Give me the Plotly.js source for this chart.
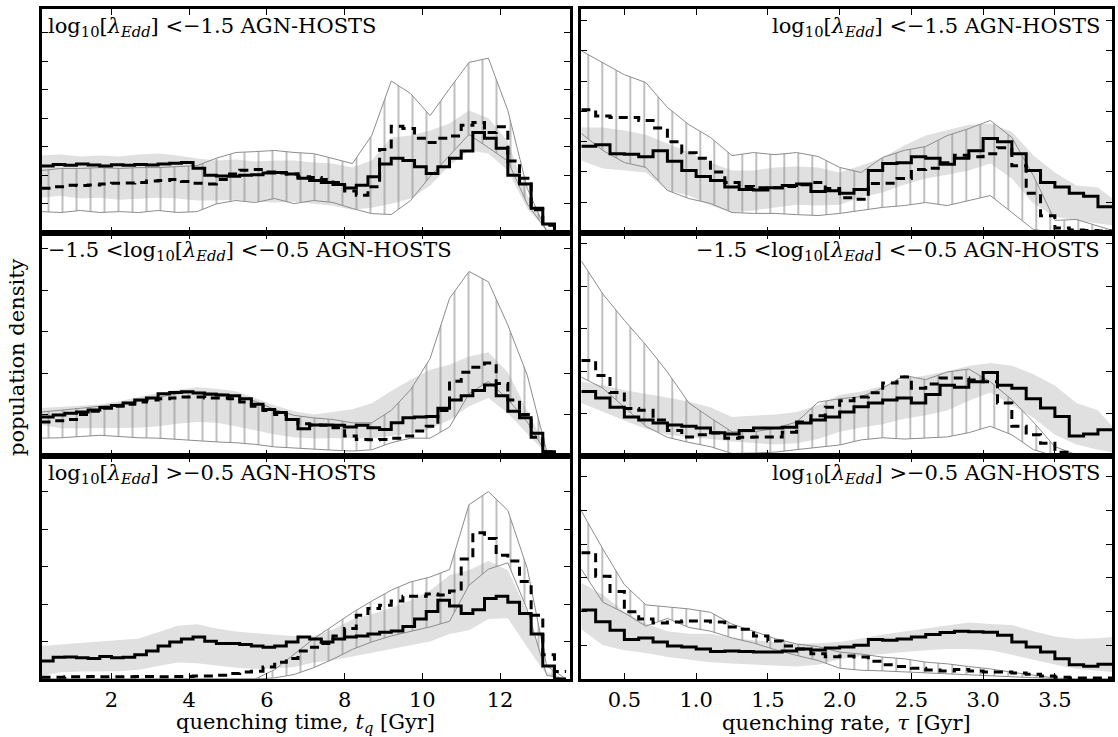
<!DOCTYPE html>
<html><head><meta charset="utf-8">
<script src="https://cdn.plot.ly/plotly-3.0.1.min.js"></script>
<style>html,body{margin:0;padding:0;background:#fff}#chart{width:1118px;height:737px}</style>
</head><body><div id="chart"></div>
<script>
// ---------- x grids ----------
const tqEdges = [0.2,0.5,0.8,1.1,1.4,1.7,2.0,2.3,2.6,2.9,3.2,3.5,3.8,4.1,4.4,4.7,5.0,5.3,5.6,5.9,6.2,6.5,6.8,7.1,7.4,7.7,8.0,8.3,8.6,8.9,9.2,9.5,9.8,10.1,10.4,10.7,11.0,11.3,11.6,11.9,12.2,12.5,12.8,13.1,13.4,13.7];
const tauEdges = [0.2,0.3,0.4,0.5,0.6,0.7,0.8,0.9,1.0,1.1,1.2,1.3,1.4,1.5,1.6,1.7,1.8,1.9,2.0,2.1,2.2,2.3,2.4,2.5,2.6,2.7,2.8,2.9,3.0,3.1,3.2,3.3,3.4,3.5,3.6,3.7,3.8,3.9];
const tqBand = [0.2,0.7,1.2,1.7,2.2,2.7,3.2,3.7,4.2,4.7,5.2,5.7,6.2,6.7,7.2,7.7,8.2,8.7,9.2,9.7,10.2,10.7,11.2,11.7,12.2,12.7,13.2,13.7];
const tauBand = [0.2,0.35,0.5,0.65,0.8,0.95,1.1,1.25,1.4,1.55,1.7,1.85,2.0,2.15,2.3,2.45,2.6,2.75,2.9,3.05,3.2,3.35,3.5,3.65,3.8,3.9];
const tqTicks = [2,4,6,8,10,12];
const tauTicks = [0.5,1.0,1.5,2.0,2.5,3.0,3.5];

// ---------- row 1 : log10[lambda_Edd] < -1.5 ----------
const tqLowSolid = [2.33,2.38,2.35,2.40,2.36,2.33,2.37,2.35,2.38,2.36,2.40,2.42,2.45,2.25,2.00,1.98,1.97,2.00,2.02,2.08,2.10,2.05,1.90,1.82,1.75,1.68,1.56,1.65,1.95,2.40,2.60,2.52,2.30,2.06,2.30,2.60,2.85,3.50,3.30,2.95,2.00,1.70,0.85,0.30,0.00];
const tqLowDashed = [1.55,1.60,1.65,1.64,1.66,1.70,1.72,1.73,1.75,1.80,1.82,1.85,1.78,1.72,1.70,1.85,2.05,2.18,2.20,2.12,2.08,2.05,1.95,1.92,1.85,1.75,1.45,1.30,1.60,2.90,3.72,3.64,3.30,3.15,3.30,3.38,3.75,3.85,3.50,3.70,2.50,1.90,0.80,0.25,0.00];
const tqLowHatchUp = [2.17,2.24,2.24,2.27,2.24,2.27,2.27,2.31,2.34,2.60,2.80,2.83,2.87,2.80,2.76,2.59,2.41,3.40,5.30,4.86,4.09,5.03,5.95,6.10,4.27,1.54,0.03,0.00];
const tqLowHatchLo = [0.73,0.70,0.77,0.70,0.73,0.70,0.77,0.70,0.73,1.00,1.12,1.05,1.19,1.01,1.12,1.05,0.84,0.66,0.63,1.12,1.96,2.69,3.43,2.97,2.50,1.00,0.07,0.00];
const tqLowGreyUp = [2.69,2.73,2.66,2.69,2.66,2.73,2.76,2.69,2.59,2.52,2.55,2.48,2.52,2.52,2.45,2.41,2.27,2.52,3.32,3.39,3.57,3.81,4.27,4.00,3.20,1.30,0.14,0.00];
const tqLowGreyLo = [1.22,1.29,1.19,1.22,1.15,1.19,1.22,1.19,1.12,1.12,1.15,1.08,1.05,1.08,1.01,0.94,0.80,0.87,1.01,1.19,1.64,2.34,2.87,2.76,2.17,0.84,0.07,0.00];

const tauLowSolid = [2.85,2.90,2.60,2.58,2.50,2.70,2.35,2.05,1.85,1.72,1.50,1.42,1.40,1.48,1.55,1.60,1.35,1.38,1.30,1.42,2.05,2.28,2.30,2.50,2.45,2.25,2.45,2.70,3.10,3.00,2.60,2.05,1.65,1.50,1.30,1.20,0.85];
const tauLowDashed = [4.05,3.85,3.80,3.80,3.70,3.45,3.00,2.63,2.45,2.00,1.65,1.52,1.48,1.48,1.52,1.58,1.65,1.45,1.15,1.10,1.62,1.63,1.78,2.08,2.12,2.30,2.55,2.50,2.60,2.80,2.20,1.30,0.55,0.15,0.08,0.07,0.05];
const tauLowHatchUp = [6.00,5.61,5.21,4.95,4.13,3.56,3.14,2.54,2.64,2.57,2.64,2.51,2.15,1.98,2.48,2.71,2.84,3.20,3.43,3.70,3.14,1.88,0.40,0.43,0.20,0.07];
const tauLowHatchLo = [3.27,2.71,2.31,2.15,1.39,1.12,0.96,0.66,0.63,0.63,0.59,0.56,0.63,0.73,0.83,0.89,0.99,0.89,1.06,1.22,0.66,0.10,0.00,0.00,0.00,0.00];
const tauLowGreyUp = [3.47,3.47,3.37,3.23,2.94,2.64,2.31,2.05,2.05,2.15,2.18,2.15,1.98,2.21,2.48,2.87,3.20,3.37,3.56,3.60,3.33,2.54,1.98,1.55,1.49,1.12];
const tauLowGreyLo = [2.38,2.11,2.05,1.98,1.39,1.22,0.89,0.66,0.73,0.83,0.92,0.89,0.92,1.16,1.32,1.58,1.78,1.91,2.05,2.28,1.78,0.96,0.53,0.40,0.30,0.23];

// ---------- row 2 : -1.5 < log10[lambda_Edd] < -0.5 ----------
const tqMidSolid = [0.94,0.99,1.03,1.06,1.11,1.17,1.22,1.28,1.35,1.40,1.50,1.53,1.55,1.52,1.49,1.47,1.45,1.38,1.25,1.12,1.05,0.88,0.66,0.75,0.75,0.74,0.70,0.74,0.68,0.64,0.80,0.92,0.94,0.95,1.15,1.35,1.45,1.58,1.71,1.45,1.08,0.92,0.55,0.10,0.00];
const tqMidDashed = [0.82,0.85,0.88,1.00,1.08,1.15,1.20,1.25,1.30,1.35,1.38,1.40,1.42,1.42,1.40,1.40,1.38,1.30,1.20,1.10,1.00,0.88,0.78,0.75,0.74,0.68,0.48,0.40,0.39,0.40,0.43,0.48,0.60,0.72,1.10,1.80,2.02,2.14,2.24,1.75,1.35,1.00,0.45,0.10,0.00];
const tqMidHatchUp = [1.06,1.10,1.15,1.20,1.25,1.32,1.42,1.50,1.54,1.52,1.45,1.32,1.12,0.98,0.92,0.88,0.80,0.80,1.10,1.60,2.35,3.80,4.45,4.20,3.16,1.95,0.12,0.00];
const tqMidHatchLo = [0.43,0.44,0.47,0.50,0.47,0.44,0.43,0.40,0.36,0.34,0.32,0.28,0.22,0.19,0.16,0.14,0.12,0.15,0.32,0.43,0.43,0.70,1.50,1.80,1.37,0.82,0.05,0.00];
const tqMidGreyUp = [1.16,1.18,1.21,1.24,1.32,1.42,1.52,1.60,1.66,1.62,1.56,1.40,1.22,1.08,1.00,1.06,1.13,1.27,1.57,1.84,2.08,2.20,2.40,2.50,2.02,1.10,0.15,0.00];
const tqMidGreyLo = [0.75,0.67,0.67,0.67,0.67,0.68,0.72,0.78,0.82,0.80,0.72,0.62,0.52,0.45,0.42,0.43,0.43,0.43,0.48,0.55,0.65,0.87,1.20,1.40,1.03,0.55,0.05,0.00];

const tauMidSolid = [1.52,1.37,1.15,0.92,0.85,0.78,0.73,0.70,0.66,0.55,0.52,0.60,0.66,0.66,0.68,0.78,0.85,0.92,1.04,1.16,1.25,1.32,1.37,1.25,1.45,1.67,1.62,1.75,1.97,1.67,1.60,1.35,1.13,0.93,0.47,0.52,0.62];
const tauMidDashed = [2.25,1.90,1.50,1.12,1.08,0.85,0.60,0.45,0.50,0.54,0.42,0.44,0.45,0.45,0.56,0.80,0.95,1.15,1.30,1.39,1.49,1.72,1.86,1.60,1.70,1.84,1.84,1.79,1.75,1.25,0.70,0.50,0.30,0.09,0.02,0.02,0.02];
const tauMidHatchUp = [4.60,3.82,3.20,2.62,1.98,1.25,0.90,0.57,0.57,0.65,0.80,1.27,1.35,1.40,1.60,1.90,1.80,1.98,2.05,1.75,1.33,0.80,0.22,0.03,0.00,0.00];
const tauMidHatchLo = [1.86,1.60,1.15,0.70,0.44,0.32,0.22,0.06,0.07,0.09,0.15,0.21,0.26,0.38,0.43,0.40,0.43,0.45,0.55,0.70,0.50,0.15,0.00,0.00,0.00,0.00];
const tauMidGreyUp = [1.75,1.67,1.55,1.47,1.38,1.28,1.15,0.92,0.95,0.98,1.04,1.20,1.44,1.52,1.65,1.82,1.90,2.00,2.12,2.19,2.13,1.93,1.66,1.25,1.08,0.70];
const tauMidGreyLo = [1.25,1.04,0.84,0.64,0.50,0.44,0.40,0.34,0.30,0.27,0.30,0.40,0.57,0.67,0.75,0.88,0.96,1.07,1.30,1.50,1.20,0.90,0.50,0.27,0.15,0.09];

// ---------- row 3 : log10[lambda_Edd] > -0.5 ----------
const tqHighSolid = [0.48,0.58,0.59,0.57,0.55,0.60,0.57,0.58,0.65,0.75,0.88,0.99,1.07,1.12,1.01,0.95,0.95,0.92,0.88,0.85,0.88,0.99,1.12,1.07,0.99,1.07,1.12,1.15,1.20,1.25,1.28,1.40,1.60,1.80,2.10,1.95,1.75,1.85,2.15,2.21,2.05,1.75,1.20,0.35,0.00];
const tqHighDashed = [0.05,0.05,0.06,0.06,0.07,0.06,0.06,0.06,0.07,0.07,0.06,0.07,0.07,0.08,0.08,0.10,0.15,0.19,0.21,0.32,0.45,0.55,0.75,0.85,0.95,1.15,1.35,1.70,1.88,1.97,2.08,2.21,2.21,2.27,2.24,2.35,3.20,3.90,3.75,3.30,3.15,2.60,1.70,0.65,0.20];
const tqHighHatchUp = [0,0,0,0,0,0,0,0,0,0,0,0,0.25,0.65,1.07,1.42,1.77,2.08,2.37,2.59,2.72,2.92,4.65,5.00,4.50,2.95,0.35,0.00];
const tqHighHatchLo = [0,0,0,0,0,0,0,0,0,0,0,0,0.03,0.12,0.30,0.53,0.79,0.99,1.15,1.27,1.39,1.54,2.50,2.93,3.10,1.85,0.10,0.00];
const tqHighGreyUp = [0.88,0.92,0.97,1.01,1.04,1.08,1.25,1.42,1.46,1.35,1.27,1.22,1.18,1.15,1.15,1.32,1.59,1.73,1.90,2.10,2.36,2.77,2.90,3.15,2.90,1.80,0.19,0.00];
const tqHighGreyLo = [0.08,0.18,0.20,0.21,0.21,0.25,0.34,0.44,0.42,0.35,0.30,0.27,0.28,0.32,0.44,0.50,0.59,0.70,0.80,0.90,1.00,1.20,1.30,1.60,1.62,0.85,0.10,0.00];

const tauHighSolid = [2.05,1.70,1.45,1.17,1.22,1.10,0.98,0.95,0.89,0.82,0.83,0.82,0.80,0.80,0.83,0.89,0.86,0.92,0.95,1.00,1.17,1.15,1.19,1.25,1.32,1.38,1.42,1.40,1.39,1.30,1.10,0.95,0.80,0.60,0.42,0.38,0.44];
const tauHighDashed = [3.75,3.05,2.60,2.00,1.78,1.66,1.69,1.72,1.72,1.69,1.54,1.48,1.28,1.13,0.98,0.89,0.75,0.66,0.68,0.65,0.53,0.42,0.37,0.32,0.27,0.24,0.28,0.24,0.21,0.21,0.18,0.14,0.09,0.05,0.03,0.03,0.03];
const tauHighHatchUp = [4.99,3.86,2.80,2.20,2.14,2.08,1.98,1.63,1.42,1.20,1.04,0.96,0.80,0.74,0.65,0.60,0.50,0.45,0.37,0.30,0.20,0.12,0.03,0.00,0.00,0.00];
const tauHighHatchLo = [3.26,2.28,1.96,1.57,1.80,1.53,1.42,1.22,1.07,0.87,0.70,0.55,0.32,0.26,0.24,0.21,0.18,0.15,0.12,0.10,0.06,0.03,0.01,0.00,0.00,0.00];
const tauHighGreyUp = [2.85,2.50,2.00,1.65,1.42,1.34,1.34,1.22,1.15,1.10,1.05,1.06,1.10,1.20,1.32,1.41,1.50,1.60,1.68,1.63,1.60,1.42,1.26,1.19,1.21,1.25];
const tauHighGreyLo = [1.48,1.00,0.85,0.77,0.65,0.58,0.50,0.46,0.43,0.39,0.37,0.42,0.59,0.68,0.75,0.80,0.85,0.89,0.89,0.85,0.72,0.57,0.43,0.30,0.24,0.21];

// ---------- labels ----------
const lam = 'log<sub>10</sub>[<i>λ</i><sub><i>Edd</i></sub>]';
const panelLabels = [
  lam + ' &lt;−1.5 AGN-HOSTS',
  '−1.5 &lt;' + lam + ' &lt;−0.5 AGN-HOSTS',
  lam + ' &gt;−0.5 AGN-HOSTS'
];
const xTitleLeft = 'quenching time, <i>t</i><sub><i>q</i></sub> [Gyr]';
const xTitleRight = 'quenching rate, <i>τ</i> [Gyr]';
const yTitle = 'population density';

// ---------- build ----------
const W = 1118, H = 737;
const colDom = [[41.5/W, 570/W], [581.3/W, 1112.3/W]];
const rowPx = [[8.7, 232.5], [232.5, 456], [456, 679]];
const rowDom = rowPx.map(r => [1 - r[1]/H, 1 - r[0]/H]);
const yMax = [[7.83, 7.39], [5.39, 5.27], [5.95, 6.62]];

const panels = [
  {r:0,c:0, s:tqLowSolid, d:tqLowDashed, hu:tqLowHatchUp, hl:tqLowHatchLo, gu:tqLowGreyUp, gl:tqLowGreyLo},
  {r:0,c:1, s:tauLowSolid, d:tauLowDashed, hu:tauLowHatchUp, hl:tauLowHatchLo, gu:tauLowGreyUp, gl:tauLowGreyLo},
  {r:1,c:0, s:tqMidSolid, d:tqMidDashed, hu:tqMidHatchUp, hl:tqMidHatchLo, gu:tqMidGreyUp, gl:tqMidGreyLo},
  {r:1,c:1, s:tauMidSolid, d:tauMidDashed, hu:tauMidHatchUp, hl:tauMidHatchLo, gu:tauMidGreyUp, gl:tauMidGreyLo},
  {r:2,c:0, s:tqHighSolid, d:tqHighDashed, hu:tqHighHatchUp, hl:tqHighHatchLo, gu:tqHighGreyUp, gl:tqHighGreyLo},
  {r:2,c:1, s:tauHighSolid, d:tauHighDashed, hu:tauHighHatchUp, hl:tauHighHatchLo, gu:tauHighGreyUp, gl:tauHighGreyLo}
];

const traces = [];
const FONT = {family: 'DejaVu Serif', size: 20, color: '#000'};
const TICKFONT = {family: 'DejaVu Serif', size: 21, color: '#000'};
const TITLEFONT = {family: 'DejaVu Serif', size: 21, color: '#000'};
const LABELFONT = {family: 'DejaVu Serif', size: 21, color: '#000'};
const layout = {
  width: W, height: H, margin: {l:0, r:0, t:0, b:0},
  paper_bgcolor: '#fff', plot_bgcolor: '#fff', showlegend: false,
  font: FONT,
  annotations: []
};
const hatchGrey = '#8c8c8c';

panels.forEach((p, i) => {
  const n = i + 1;
  const xa = 'x' + (n === 1 ? '' : n), ya = 'y' + (n === 1 ? '' : n);
  const edges = p.c === 0 ? tqEdges : tauEdges;
  const band = p.c === 0 ? tqBand : tauBand;
  const base = {type: 'scatter', mode: 'lines', xaxis: xa, yaxis: ya, hoverinfo: 'skip'};
  traces.push(Object.assign({}, base, {x: band, y: p.gl, line: {width: 0}}));
  traces.push(Object.assign({}, base, {x: band, y: p.gu, line: {width: 0}, fill: 'tonexty', fillcolor: '#e0e0e0'}));
  traces.push(Object.assign({}, base, {x: band, y: p.hl, line: {width: 1, color: hatchGrey}}));
  traces.push(Object.assign({}, base, {x: band, y: p.hu, line: {width: 1, color: hatchGrey},
    fill: 'tonexty', fillcolor: 'rgba(0,0,0,0)',
    fillpattern: {shape: '|', size: 14, solidity: 0.08, fgcolor: hatchGrey, bgcolor: 'rgba(0,0,0,0)'}}));
  traces.push(Object.assign({}, base, {x: edges, y: p.s.concat([p.s[p.s.length-1]]),
    line: {width: 3, color: '#000', shape: 'hv'}}));
  traces.push(Object.assign({}, base, {x: edges, y: p.d.concat([p.d[p.d.length-1]]),
    line: {width: 3, color: '#000', shape: 'hv', dash: '9px,6px'}}));

  const axCommon = {ticks: 'inside', ticklen: 6, tickwidth: 1, tickcolor: '#000',
    showline: true, linewidth: 3, linecolor: '#000', mirror: 'ticks',
    showgrid: false, zeroline: false, tickfont: TICKFONT};
  layout['xaxis' + (n === 1 ? '' : n)] = Object.assign({}, axCommon, {
    domain: colDom[p.c], anchor: ya,
    range: p.c === 0 ? [0.2, 13.8] : [0.2, 3.9],
    tickmode: 'array', tickvals: p.c === 0 ? tqTicks : tauTicks,
    tickformat: p.c === 0 ? 'd' : '.1f',
    showticklabels: p.r === 2, ticklabelstandoff: 0
  });
  layout['yaxis' + (n === 1 ? '' : n)] = Object.assign({}, axCommon, {
    domain: rowDom[p.r], anchor: xa,
    range: [0, yMax[p.r][p.c]], tick0: 0, dtick: 1, showticklabels: false
  });

  const topY = 1 - (rowPx[p.r][0] + 3) / H;
  layout.annotations.push(p.c === 0
    ? {xref: 'paper', yref: 'paper', x: 46/W, y: topY, xanchor: 'left', yanchor: 'top',
       text: panelLabels[p.r], showarrow: false, font: LABELFONT}
    : {xref: 'paper', yref: 'paper', x: 1102/W, y: topY, xanchor: 'right', yanchor: 'top',
       text: panelLabels[p.r], showarrow: false, font: LABELFONT});
});

layout.annotations.push({xref: 'paper', yref: 'paper', x: 305/W, y: 1 - 723/H, xanchor: 'center', yanchor: 'middle',
  text: xTitleLeft, showarrow: false, font: TITLEFONT});
layout.annotations.push({xref: 'paper', yref: 'paper', x: 846/W, y: 1 - 723/H, xanchor: 'center', yanchor: 'middle',
  text: xTitleRight, showarrow: false, font: TITLEFONT});
layout.annotations.push({xref: 'paper', yref: 'paper', x: 17/W, y: 1 - 357/H, xanchor: 'center', yanchor: 'middle',
  text: yTitle, textangle: -90, showarrow: false, font: LABELFONT});

Plotly.newPlot('chart', traces, layout, {staticPlot: true, displayModeBar: false});
</script>
</body></html>
